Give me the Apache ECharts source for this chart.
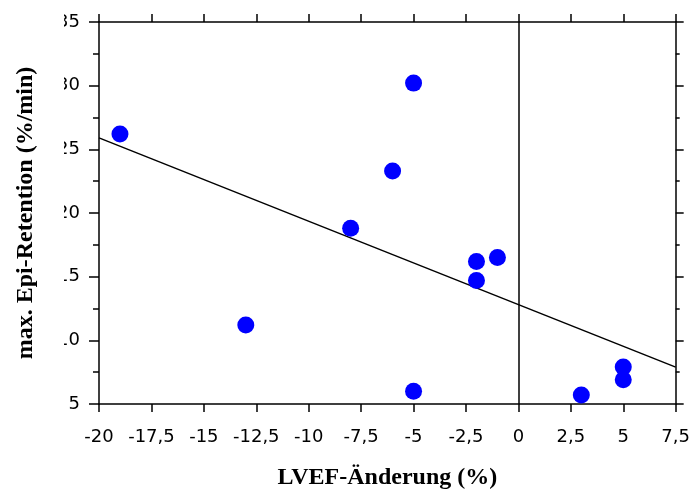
<!DOCTYPE html>
<html>
<head>
<meta charset="utf-8">
<title>Epi-Retention vs LVEF</title>
<script src="https://cdn.jsdelivr.net/npm/echarts@6/dist/echarts.min.js"></script>
<style>
  html, body { margin: 0; padding: 0; background: #fff; }
  #chart { width: 693px; height: 495px; }
</style>
</head>
<body>
<div id="chart"></div>
<script>
// LVEF-Änderung (%) der Patienten
var lvefChange = [-19, -13, -8, -6, -5, -5, -2, -2, -1, 3, 5, 5];
// max. Epi-Retention (%/min)
var epiRetention = [26.2, 11.2, 18.8, 23.3, 30.2, 6.0, 16.2, 14.7, 16.5, 5.7, 7.9, 6.9];
var fitX = [-20, 7.5];
var fitY = [25.9, 7.9];

var points = [];
for (var i = 0; i < lvefChange.length; i++) {
  points.push([lvefChange[i], epiRetention[i]]);
}
var fitLine = [];
for (var j = 0; j < fitX.length; j++) {
  fitLine.push([fitX[j], fitY[j]]);
}

var axisColor = '#000';
function comma(v) { return String(v).replace('.', ','); }

var myChart = echarts.init(document.getElementById('chart'));
var option = {
  animation: false,
  backgroundColor: '#fff',
  grid: { left: 99, right: 16, top: 22, bottom: 89 },
  xAxis: [{
    type: 'value', position: 'bottom',
    min: -20, max: 7.5, interval: 2.5,
    name: 'LVEF-Änderung (%)', nameLocation: 'middle', nameGap: 62,
    nameTextStyle: { fontFamily: 'Liberation Serif', fontWeight: 'bold', fontSize: 24, color: '#000' },
    axisLine: { onZero: false, lineStyle: { color: axisColor, width: 1.5 } },
    axisTick: { length: 8, lineStyle: { color: axisColor, width: 1.5 } },
    axisLabel: { formatter: comma, fontFamily: 'DejaVu Sans', fontSize: 18, color: '#000', margin: 24 },
    splitLine: { show: false }
  }, {
    type: 'value', position: 'top',
    min: -20, max: 7.5, interval: 2.5,
    axisLine: { onZero: false, lineStyle: { color: axisColor, width: 1.5 } },
    axisTick: { length: 8, lineStyle: { color: axisColor, width: 1.5 } },
    axisLabel: { show: false },
    splitLine: { show: false }
  }],
  yAxis: [{
    type: 'value', position: 'left',
    min: 5, max: 35, interval: 5,
    name: 'max. Epi-Retention (%/min)', nameLocation: 'middle', nameGap: 61,
    nameTextStyle: { fontFamily: 'Liberation Serif', fontWeight: 'bold', fontSize: 24, color: '#000' },
    axisLine: { show: true, onZero: false, lineStyle: { color: axisColor, width: 1.5 } },
    axisTick: { show: true, length: 10, lineStyle: { color: axisColor, width: 1.5 } },
    minorTick: { show: true, splitNumber: 2, length: 6, lineStyle: { color: axisColor, width: 1.5 } },
    axisLabel: { fontFamily: 'DejaVu Sans', fontSize: 18, color: '#000', margin: 19 },
    splitLine: { show: false }
  }, {
    type: 'value', position: 'right',
    min: 5, max: 35, interval: 5,
    axisLine: { show: true, onZero: false, lineStyle: { color: axisColor, width: 1.5 } },
    axisTick: { show: true, length: 8, lineStyle: { color: axisColor, width: 1.5 } },
    minorTick: { show: true, splitNumber: 2, length: 4, lineStyle: { color: axisColor, width: 1.5 } },
    axisLabel: { show: false },
    splitLine: { show: false }
  }],
  // the reference cuts off the left part of the y labels
  graphic: [{
    type: 'rect', left: 46, top: 0, z: 100,
    shape: { width: 18, height: 420 },
    style: { fill: '#fff' }
  }],
  series: [{
    type: 'line',
    data: fitLine,
    symbol: 'none',
    lineStyle: { color: '#000', width: 1.5 },
    markLine: {
      silent: true, symbol: 'none', label: { show: false },
      lineStyle: { color: '#000', width: 1.5, type: 'solid' },
      data: [{ xAxis: 0 }]
    },
    z: 2
  }, {
    type: 'scatter',
    data: points,
    symbol: 'circle',
    symbolSize: 17,
    itemStyle: { color: '#0000ff', opacity: 1 },
    z: 3
  }]
};
myChart.setOption(option);
</script>
</body>
</html>
